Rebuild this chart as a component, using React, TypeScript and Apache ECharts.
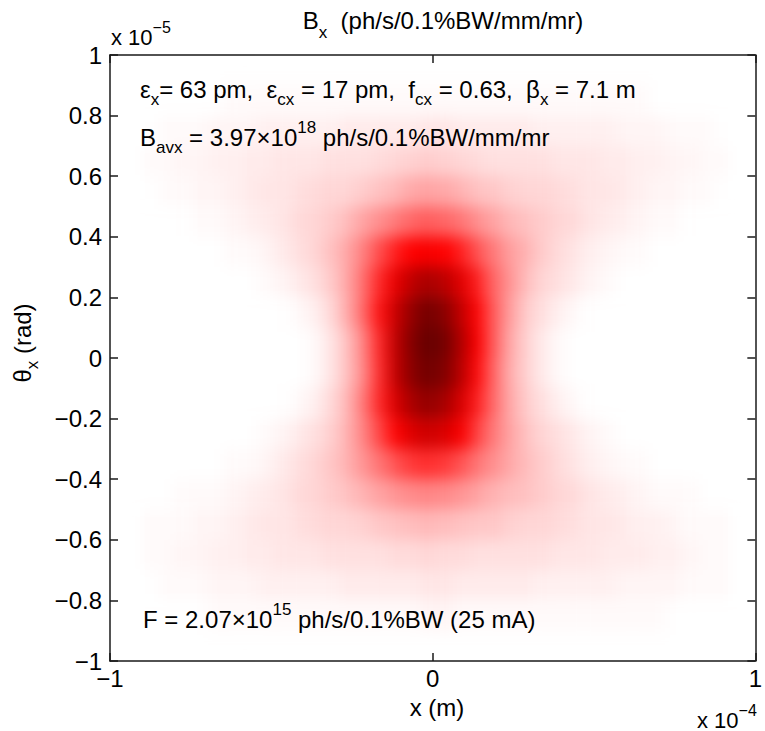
import React, { useEffect, useRef } from 'react';
import * as echarts from 'echarts';

// Cell centres of the brightness map (x in units of 1e-4 m, theta in units of 1e-5 rad)
const xCenters = [
  -0.975, -0.925, -0.875, -0.825, -0.775, -0.725, -0.675, -0.625, -0.575, -0.525,
  -0.475, -0.425, -0.375, -0.325, -0.275, -0.225, -0.175, -0.125, -0.075, -0.025,
  0.025, 0.075, 0.125, 0.175, 0.225, 0.275, 0.325, 0.375, 0.425, 0.475,
  0.525, 0.575, 0.625, 0.675, 0.725, 0.775, 0.825, 0.875, 0.925, 0.975,
];
// rows listed from top (theta = +0.95) to bottom (theta = -0.95)
const thetaCenters = [0.95, 0.85, 0.75, 0.65, 0.55, 0.45, 0.35, 0.25, 0.15, 0.05,
  -0.05, -0.15, -0.25, -0.35, -0.45, -0.55, -0.65, -0.75, -0.85, -0.95];

// Relative brightness (percent of peak), one array per theta row
const rowP95 = [0,0,0,0,0,0,0,0,0,0, 0,0,0,0,0,0,0,0,0,0, 0,0,0,0,0,0,0,0,0,0, 0,0,0,0,0,0,0,0,0,0];
const rowP85 = [0,0,0,0,0,0,0,1,1,1, 1,1,1,1,1,1,1,1,1,1, 1,1,1,1,1,1,1,1,1,1, 1,1,1,0,0,0,0,0,0,0];
const rowP75 = [0,0,0,1,1,1,2,2,2,3, 3,3,3,3,4,4,4,4,4,5, 5,4,4,4,4,4,3,3,3,3, 3,2,2,2,1,1,1,0,0,0];
const rowP65 = [0,0,1,1,2,2,3,3,4,4, 5,5,5,6,6,6,7,8,9,10, 9,8,7,6,6,6,6,5,5,5, 4,4,3,3,2,2,1,1,0,0];
const rowP55 = [0,0,0,1,1,2,2,3,4,5, 5,6,7,8,8,10,12,14,17,18, 17,15,12,11,9,8,8,7,6,5, 5,4,3,2,2,1,1,0,0,0];
const rowP45 = [0,0,0,0,0,1,1,2,3,4, 5,7,8,10,13,18,22,26,30,32, 30,27,22,18,14,12,10,8,7,5, 4,3,2,1,1,0,0,0,0,0];
const rowP35 = [0,0,0,0,0,0,0,1,1,2, 4,6,8,12,17,25,35,44,50,52, 50,44,34,26,19,15,10,7,5,3, 2,1,1,0,0,0,0,0,0,0];
const rowP25 = [0,0,0,0,0,0,0,0,0,1, 2,4,6,10,17,28,42,57,71,78, 72,60,44,30,21,13,8,6,4,2, 1,0,0,0,0,0,0,0,0,0];
const rowP15 = [0,0,0,0,0,0,0,0,0,0, 0,1,3,7,16,29,46,67,85,95, 88,70,49,32,19,10,6,3,1,0, 0,0,0,0,0,0,0,0,0,0];
const rowP05 = [0,0,0,0,0,0,0,0,0,0, 0,0,1,5,12,24,42,70,90,100, 95,76,51,32,17,9,4,1,0,0, 0,0,0,0,0,0,0,0,0,0];
const rowM05 = [0,0,0,0,0,0,0,0,0,0, 0,0,1,5,12,23,41,69,88,96, 91,73,48,30,16,9,4,1,0,0, 0,0,0,0,0,0,0,0,0,0];
const rowM15 = [0,0,0,0,0,0,0,0,0,0, 0,1,3,7,14,26,42,62,78,85, 79,63,44,29,17,10,6,3,1,0, 0,0,0,0,0,0,0,0,0,0];
const rowM25 = [0,0,0,0,0,0,0,0,0,1, 2,4,6,9,15,24,36,49,61,66, 62,52,37,26,18,12,8,6,4,2, 1,0,0,0,0,0,0,0,0,0];
const rowM35 = [0,0,0,0,0,0,0,1,1,2, 4,6,8,11,15,21,27,34,39,41, 39,34,27,22,17,13,10,7,5,3, 2,1,1,0,0,0,0,0,0,0];
const rowM45 = [0,0,0,0,1,1,1,2,3,4, 5,7,8,10,12,15,18,21,23,24, 23,21,18,15,13,12,10,8,7,5, 4,3,2,1,1,1,0,0,0,0];
const rowM55 = [0,0,1,1,1,2,2,3,4,5, 5,6,7,8,8,9,11,12,13,14, 13,12,11,11,9,8,8,7,6,5, 5,4,3,3,2,1,1,1,0,0];
const rowM65 = [0,0,1,1,2,2,3,3,4,4, 5,5,5,6,6,6,6,7,7,8, 7,7,6,6,6,6,6,5,5,5, 4,4,4,3,3,2,1,1,0,0];
const rowM75 = [0,0,0,1,1,1,2,2,2,3, 3,3,3,3,4,4,4,4,4,5, 5,4,4,4,4,4,3,3,3,3, 3,2,2,2,2,1,1,1,0,0];
const rowM85 = [0,0,0,0,0,0,1,1,1,1, 1,1,1,1,1,1,1,1,1,2, 2,1,1,1,1,1,1,1,1,1, 1,1,1,1,0,0,0,0,0,0];
const rowM95 = [0,0,0,0,0,0,0,0,0,0, 0,0,0,0,0,0,0,0,0,0, 0,0,0,0,0,0,0,0,0,0, 0,0,0,0,0,0,0,0,0,0];

const brightnessRows = [rowP95, rowP85, rowP75, rowP65, rowP55, rowP45, rowP35, rowP25, rowP15, rowP05,
  rowM05, rowM15, rowM25, rowM35, rowM45, rowM55, rowM65, rowM75, rowM85, rowM95];

const colorScale = ['#ffffff', '#ff0000', '#650000'];

const titleMain = 'B';
const titleSub = 'x';
const titleRest = '  (ph/s/0.1%BW/mm/mr)';
const xAxisName = 'x (m)';
const yAxisSymbol = 'θ';
const yAxisSub = 'x';
const yAxisRest = ' (rad)';

const FONT = "'Liberation Sans', Arial, Helvetica, sans-serif";
const GRID = { left: 110, top: 55, width: 653, height: 606 };

const richStyles = (size: number, subSize: number, subDrop: number, supRise: number) => ({
  n: { fontSize: size, fontFamily: FONT, fill: '#000', lineHeight: 32 },
  sub: { fontSize: subSize, fontFamily: FONT, fill: '#000', lineHeight: 32, padding: [subDrop * 2, 0, 0, 0] },
  sup: { fontSize: subSize, fontFamily: FONT, fill: '#000', lineHeight: 32, padding: [0, 0, supRise * 2, 0] },
});

const minusFmt = (v: number) => (v === 0 ? '0' : String(v).replace('-', '\u2212'));

export default function App() {
  const heatRef = useRef<HTMLDivElement>(null);
  const axesRef = useRef<HTMLDivElement>(null);

  useEffect(() => {
    const heat = echarts.init(heatRef.current!, null, { renderer: 'svg' });
    const axes = echarts.init(axesRef.current!, null, { renderer: 'svg' });

    const data: number[][] = [];
    brightnessRows.forEach((row, r) => {
      row.forEach((v, c) => data.push([c, r, v]));
    });

    heat.setOption({
      animation: false,
      grid: { ...GRID },
      xAxis: { type: 'category', data: xCenters.map(String), show: false },
      yAxis: { type: 'category', data: thetaCenters.map(String), inverse: true, show: false },
      visualMap: { show: false, min: 0, max: 100, inRange: { color: colorScale } },
      series: [{ type: 'heatmap', data, itemStyle: { borderWidth: 0 } }],
    });

    const lineStyle = { color: '#1a1a1a', width: 1.5 };
    const axisCommon = {
      type: 'value',
      min: -1,
      max: 1,
      axisLine: { show: true, onZero: false, lineStyle },
      axisTick: { show: true, inside: true, length: 8, lineStyle },
      splitLine: { show: false },
    };
    const rs = richStyles(24, 17, 10, 10);
    const rsSmall = richStyles(22, 16, 10, 10);
    const rsTitle = richStyles(24, 17, 12, 10);

    axes.setOption({
      animation: false,
      backgroundColor: 'transparent',
      grid: { ...GRID },
      xAxis: [
        { ...axisCommon, interval: 1, position: 'bottom',
          axisLabel: { fontSize: 24, fontFamily: FONT, color: '#000', margin: 5, formatter: minusFmt } },
        { ...axisCommon, interval: 1, position: 'top', axisLabel: { show: false } },
      ],
      yAxis: [
        { ...axisCommon, interval: 0.2, position: 'left',
          axisLabel: { fontSize: 24, fontFamily: FONT, color: '#000', margin: 8, formatter: minusFmt } },
        { ...axisCommon, interval: 0.2, position: 'right', axisLabel: { show: false } },
      ],
      series: [],
      graphic: [
        { type: 'text', x: 443, y: 20, style: { text: `{n|${titleMain}}{sub|${titleSub}}{n|${titleRest}}`, rich: rsTitle, align: 'center', verticalAlign: 'middle', textAlign: 'center', textVerticalAlign: 'middle' } },
        { type: 'text', x: 111, y: 37, style: { text: '{n|x 10}{sup|\u22125}', rich: rsSmall, align: 'left', verticalAlign: 'middle', textAlign: 'left', textVerticalAlign: 'middle' } },
        { type: 'text', x: 697, y: 720, style: { text: '{n|x 10}{sup|\u22124}', rich: rsSmall, align: 'left', verticalAlign: 'middle', textAlign: 'left', textVerticalAlign: 'middle' } },
        { type: 'text', x: 437, y: 707, style: { text: `{n|${xAxisName}}`, rich: rs, align: 'center', verticalAlign: 'middle', textAlign: 'center', textVerticalAlign: 'middle' } },
        { type: 'text', x: 22, y: 343, rotation: Math.PI / 2, style: { text: `{n|${yAxisSymbol}}{sub|${yAxisSub}}{n|${yAxisRest}}`, rich: rs, align: 'center', verticalAlign: 'middle', textAlign: 'center', textVerticalAlign: 'middle' } },
        { type: 'text', x: 140, y: 89, style: { text: '{n|\u03b5}{sub|x}{n|= 63 pm,  \u03b5}{sub|cx}{n| = 17 pm,  f}{sub|cx}{n| = 0.63,  \u03b2}{sub|x}{n| = 7.1 m}', rich: rs, align: 'left', verticalAlign: 'middle', textAlign: 'left', textVerticalAlign: 'middle' } },
        { type: 'text', x: 140, y: 137, style: { text: '{n|B}{sub|avx}{n| = 3.97\u00d710}{sup|18}{n| ph/s/0.1%BW/mm/mr}', rich: rs, align: 'left', verticalAlign: 'middle', textAlign: 'left', textVerticalAlign: 'middle' } },
        { type: 'text', x: 143, y: 619, style: { text: '{n|F = 2.07\u00d710}{sup|15}{n| ph/s/0.1%BW (25 mA)}', rich: rs, align: 'left', verticalAlign: 'middle', textAlign: 'left', textVerticalAlign: 'middle' } },
      ],
    });

    return () => {
      heat.dispose();
      axes.dispose();
    };
  }, []);

  return (
    <div style={{ position: 'absolute', left: 0, top: 0, width: 765, height: 731, background: '#ffffff', overflow: 'hidden' }}>
      <div ref={heatRef} style={{ position: 'absolute', left: 0, top: 0, width: 765, height: 731, filter: 'blur(8px)' }} />
      <div ref={axesRef} style={{ position: 'absolute', left: 0, top: 0, width: 765, height: 731 }} />
    </div>
  );
}
